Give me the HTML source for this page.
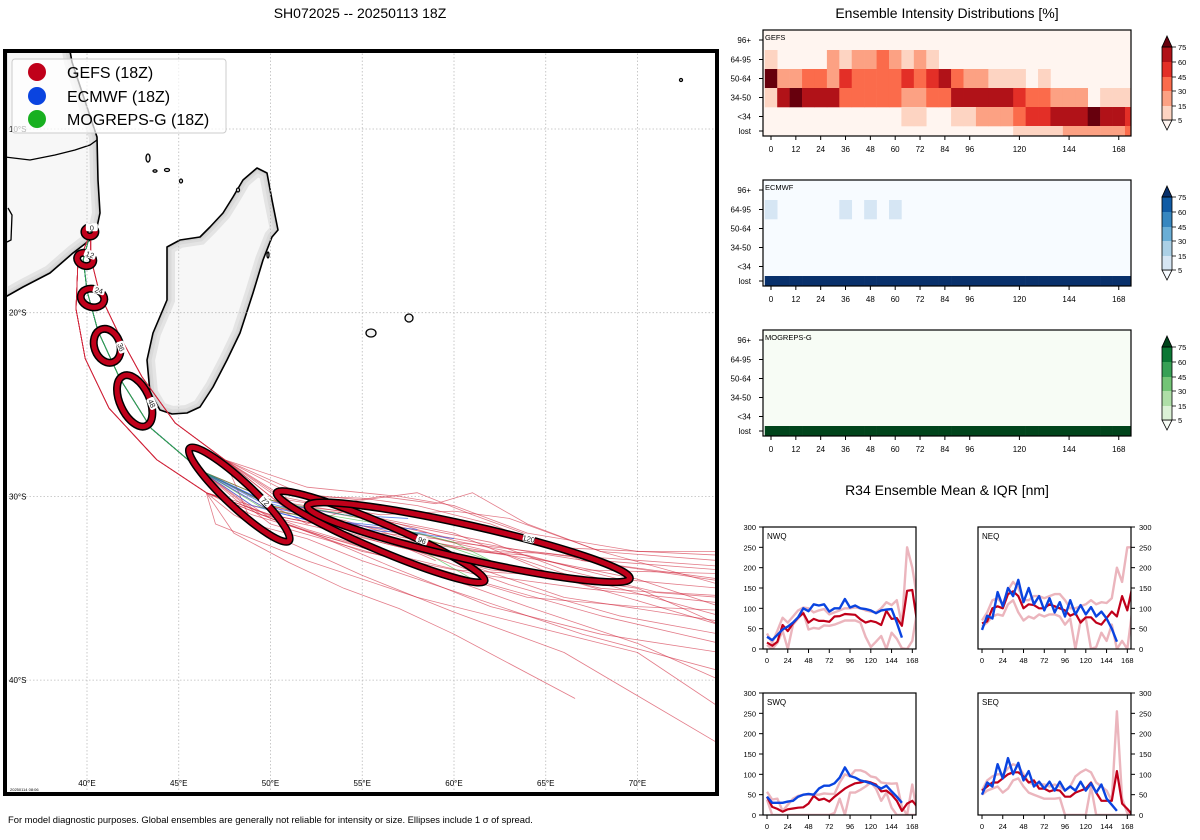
<!DOCTYPE html>
<html><head><meta charset="utf-8">
<style>
html,body{margin:0;padding:0;background:#fff;}
svg{display:block;font-family:"Liberation Sans","DejaVu Sans",sans-serif;}
</style></head>
<body>
<svg id="root" width="1200" height="840" viewBox="0 0 1200 840" xmlns="http://www.w3.org/2000/svg">
<defs>
<clipPath id="mapclip"><rect x="5" y="50" width="712" height="744"/></clipPath>
<clipPath id="madclip"><path id="madpath" d="M257,168 L267,173 L272,200 L278,230 L272,237 L263,260 L253,293 L240,333 L227,360 L213,387 L200,407 L187,413 L172,414 L160,410 L150,393 L147,360 L153,333 L167,300 L167,267 L167,247 L180,240 L200,237 L210,227 L223,213 L233,197 L243,180 Z"/></clipPath>
<clipPath id="afrclip"><path id="afrpath" d="M0,40 L68,40 L72,62 L88,110 L97,137 L98,180 L100,213 L97,227 L90,240 L73,253 L50,273 L23,287 L0,300 Z"/></clipPath>
</defs>
<text x="360" y="18" text-anchor="middle" font-size="14">SH072025 -- 20250113 18Z</text>
<text x="947" y="18" text-anchor="middle" font-size="14">Ensemble Intensity Distributions [%]</text>
<text x="947" y="495" text-anchor="middle" font-size="14">R34 Ensemble Mean &amp; IQR [nm]</text>
<text x="8" y="823" font-size="9.4">For model diagnostic purposes. Global ensembles are generally not reliable for intensity or size. Ellipses include 1 σ of spread.</text>
<g id="map" clip-path="url(#mapclip)"></g>
<rect x="5" y="51" width="712" height="743" fill="none" stroke="#000" stroke-width="4"/>
<g id="legend">
<rect x="12" y="59" width="214" height="74" rx="3" fill="#fff" fill-opacity="0.7" stroke="#ccc"/>
<circle cx="37" cy="72" r="9" fill="#c0001a"/>
<text x="67" y="78" font-size="16">GEFS (18Z)</text>
<circle cx="37" cy="96" r="9" fill="#0a44e0"/>
<text x="67" y="102" font-size="16">ECMWF (18Z)</text>
<circle cx="37" cy="119" r="9" fill="#18b020"/>
<text x="67" y="125" font-size="16">MOGREPS-G (18Z)</text>
</g>
<g id="right"></g>
</svg>
<script>
// ---------- MAP DATA ----------
const lonTicks = [40,45,50,55,60,65,70];
const latTicks = [10,20,30,40];
const prefixMid = [[40.2,15.6],[39.8,17.1],[40.0,18.8],[40.6,21.0],[41.8,23.6],[43.5,26.3],[46.2,28.6]];
const prefixWest = [[40.2,15.6],[39.5,17.4],[39.4,19.8],[39.9,22.5],[41.2,25.2],[43.8,28.0],[46.5,29.8]];
const prefixEast = [[40.2,15.6],[40.2,17.0],[40.7,19.0],[41.8,21.3],[43.0,23.5],[44.8,26.0],[47.5,28.0]];
const redTails = [
 [[50,30.5],[53,31.2],[56,32],[59,32.3],[62,33],[65,33.1],[68,33.5],[74.5,34]],
 [[50,31],[53,31.6],[56,32.5],[62,34],[65,34.3],[68,35],[74.5,35.5]],
 [[49,31.5],[52,32.3],[55,33.5],[61,35.5],[67,37.5],[74.5,39.5]],
 [[48,32],[51,33.6],[54,35],[57,36.1],[60,37.5],[66.6,41]],
 [[50,30.8],[54,31.3],[57,32.2],[63,33.2],[66,34.2],[69,35],[74.5,36.5]],
 [[51,30.5],[54,30.8],[57,31.5],[60,32.4],[63,33],[69,34.5],[74.5,35]],
 [[50,31.2],[53,32.2],[56,33],[62,34.8],[68,36.5],[74.5,38]],
 [[52,30],[55,30.1],[58,30.5],[62,31.5],[67,33.5],[74.5,34.5]],
 [[49,30.5],[54,31.5],[57,31.8],[60,32.5],[66,33.2],[74.5,33.8]],
 [[50,31.5],[57,33.5],[64,36],[70,38],[74.5,40]],
 [[51,30.8],[56,31.8],[61,33],[64,33.2],[67,34],[74.5,34.2]],
 [[50,30.5],[55,31.8],[59,33.5]],
 [[52,29.5],[57,30],[60,30.5],[64,32],[70,33],[74.5,33]],
 [[50,31],[55,32],[60,32.8],[65,33.5],[70,34.5],[74.5,36]],
 [[47,31.5],[52,33.5],[58,35.5],[64,37],[70,38.5],[74.5,41.5]],
 [[51,29.8],[55,30.2],[58,29.8],[61,31],[66,32.8],[74.5,33.2]],
 [[50,30.2],[55,31],[60,32],[66,34.5],[74.5,37]],
 [[49,31],[54,32.5],[59,34],[64,35.5],[70,36],[74.5,36.2]],
 [[49.5,30.2],[52,31.5],[54,30.8],[57,31.8],[61,33.8],[66,35.5],[74.5,36.8]],
 [[50.5,30],[53,30.5],[56,30],[59,30.4],[61,29.8],[64,31.5],[68,33],[74.5,34.8]],
 [[49,30.8],[53,32.3],[57,34],[62,36],[68,37.5],[74.5,38.5]],
 [[48.5,30.5],[52,31.8],[56,33],[61,34.2],[67,35],[74.5,35.8]],
 [[51,30.2],[56,31],[60,30.8],[63,31.2],[68,33],[74.5,33.5]],
 [[50,31.2],[55,33],[60,34],[65,34.3],[70,35],[74.5,37]],
 [[49.5,31],[54,32],[58,33],[63,34.8],[69,36.5],[74.5,37.5]],
 [[50.5,30.4],[55,31.2],[59.5,32.2],[64,33],[69,33.8],[74.5,34.6]],
 [[48,31],[51,32.5],[55,34.3],[60,36.3],[66,38.5],[74.5,43.5]],
 [[51,30.6],[54,30.9],[57.5,31.6],[62,32.5],[66,34],[71,35.2],[74.5,35.4]]
];
const redPrefixIdx = [0,1,2,1,0,2,0,2,1,0,2,0,2,1,1,2,0,1,0,2,1,0,2,1,0,2,1,0];
const blueTails = [
 [[50,30.4],[54,31.4],[58,31.8]],
 [[50,30.6],[55,31.6],[60,32.3]],
 [[49.5,30.2],[54,31],[57.5,31.2]],
 [[50,30.8],[55,32],[59.5,33]],
 [[49,30.5],[52,31.3],[56,31.9],[58.5,32]]
];
const greenTails = [
 [[50,30.2],[55,31.2],[59,32.5],[62,33.5]],
 [[50,30.5],[56,31.5],[60,32.5],[63,34]],
 [[49.5,30.6],[55,31.8],[58,32.8],[61,34.5]]
];
// ellipse parameters per forecast hour
const ellipseHours = [0,12,24,36,48,72,96,120];
const ellCenterLon = [40.16,39.9,40.3,41.1,42.6,48.3,56.0,60.8];
const ellCenterLat = [15.6,17.1,19.2,21.8,24.8,29.9,32.2,32.5];
const ellMajor = [0.3,0.45,0.65,0.95,1.5,3.7,6.15,9.0];
const ellMinor = [0.25,0.35,0.5,0.7,0.8,0.7,0.72,0.92];
const ellAngle = [0,20,15,70,65,43,23,12.7];

// ---------- MAP ----------
const NS='http://www.w3.org/2000/svg';
function el(tag, attrs, parent){const e=document.createElementNS(NS,tag);for(const k in attrs)e.setAttribute(k,attrs[k]);if(parent)parent.appendChild(e);return e;}
const mx = lon => 87 + (lon-40)*18.35;
const my = lat => 129 + (lat-10)*18.37;
const map = document.getElementById('map');
el('rect',{x:5,y:50,width:712,height:744,fill:'#fff'},map);
function land(pathId, clipId, name){
  const g = el('g',{},map);
  
  
  const d = document.getElementById(pathId).getAttribute('d');
  el('path',{d:d,fill:'#f7f7f7'},g);
  const inner = el('g',{'clip-path':'url(#'+clipId+')'},g);
  el('path',{d:d,fill:'none',stroke:'#e4e4e4','stroke-width':16},inner);
  el('path',{d:d,fill:'none',stroke:'#dadada','stroke-width':9},inner);
  el('path',{d:d,fill:'none',stroke:'#cfcfcf','stroke-width':4},inner);
  el('path',{d:d,fill:'none',stroke:'#000','stroke-width':1.6,'stroke-linejoin':'round'},g);
}
land('afrpath','afrclip','africa-coast');
land('madpath','madclip','madagascar');
const border = el('path',{d:'M5,157 L30,160 L55,155 L75,150 L90,145 L97,140',fill:'none',stroke:'#000','stroke-width':1.3},map);


el('path',{d:'M8,208 L12,215 L11,240 L7,242',fill:'none',stroke:'#000','stroke-width':1.3},map);
const islands = [[148,158,2,4],[155,171,2,1.2],[167,170,2.5,1.5],[181,181,1.5,2],[238,190,1.5,2],[371,333,5,4],[409,318,4,4],[681,80,1.5,1.5],[268,255,1,3]];
islands.forEach(p=>{const i=el('ellipse',{cx:p[0],cy:p[1],rx:p[2],ry:p[3],fill:'#f3f3f3',stroke:'#000','stroke-width':1.3},map);

});
lonTicks.forEach(l=>{const g=el('line',{x1:mx(l),x2:mx(l),y1:50,y2:794,stroke:'#bbb','stroke-width':0.8,'stroke-dasharray':'1.5,2'},map);


const t=el('text',{x:mx(l),y:786,'text-anchor':'middle','font-size':8},map);t.textContent=l+'°E';

});
latTicks.forEach(l=>{const g=el('line',{x1:5,x2:717,y1:my(l),y2:my(l),stroke:'#bbb','stroke-width':0.8,'stroke-dasharray':'1.5,2'},map);


const t=el('text',{x:9,y:my(l)+3,'font-size':8},map);t.textContent=l+'°S';

});
const prefixes=[prefixMid,prefixWest,prefixEast];
function track(pts,color,w,op,name){
  const p=el('polyline',{points:pts.map(q=>mx(q[0]).toFixed(1)+','+my(q[1]).toFixed(1)).join(' '),fill:'none',stroke:color,'stroke-width':w,'stroke-opacity':op,'stroke-linejoin':'round'},map);
  
  
}
redTails.forEach((t,i)=>track(prefixes[redPrefixIdx[i]].concat(t),'#d0243a',0.8,0.6,'gefs-member-track'));
blueTails.forEach(t=>track(prefixMid.concat(t),'#2a5ae8',0.9,0.7,'ecmwf-member-track'));
greenTails.forEach(t=>track(prefixMid.concat(t),'#2fb82f',0.8,0.6,'mogreps-member-track'));
ellipseHours.forEach((h,i)=>{
  const cx=mx(ellCenterLon[i]), cy=my(ellCenterLat[i]);
  const a=ellMajor[i]*18.35, b=ellMinor[i]*18.37;
  const g=el('g',{transform:'translate('+cx.toFixed(1)+','+cy.toFixed(1)+') rotate('+ellAngle[i]+')'},map);
  
  
  el('ellipse',{cx:0,cy:0,rx:a,ry:b,fill:'none',stroke:'#000','stroke-width':8},g);
  el('ellipse',{cx:0,cy:0,rx:a,ry:b,fill:'none',stroke:'#c0001a','stroke-width':5},g);
  const lx = a*0.35, ly = -b;
  el('rect',{x:lx-6,y:ly-4,width:12,height:8,fill:'#fff',rx:2},g);
  const t=el('text',{x:lx,y:ly+3,'text-anchor':'middle','font-size':7.5,fill:'#222'},g);t.textContent=h;
  
  
});
const stamp=el('text',{x:10,y:791,'font-size':4},map);stamp.textContent='20250114 08:06';


</script>
<script>
// ---------- INTENSITY HEATMAP DATA ----------
const hmHours = [0,6,12,18,24,30,36,42,48,54,60,66,72,78,84,90,96,102,108,114,120,126,132,138,144,150,156,162,168,174];
const hmCategories = ['96+','64-95','50-64','34-50','<34','lost'];
const hmTickHours = [0,12,24,36,48,60,72,84,96,120,144,168];
const cbTicks = [5,15,30,45,60,75];
const gefs96 = [0,0,0,0,0,0,0,0,0,0,0,0,0,0,0,0,0,0,0,0,0,0,0,0,0,0,0,0,0,0];
const gefs64 = [10,0,0,0,0,22,10,22,22,38,22,10,22,10,0,0,0,0,0,0,0,0,0,0,0,0,0,0,0,0];
const gefs50 = [80,22,22,38,38,22,52,38,38,38,38,52,38,52,68,38,22,22,10,10,10,0,10,0,0,0,0,0,0,0];
const gefs34 = [10,68,80,68,68,68,38,38,38,38,38,22,22,38,38,68,68,68,68,68,52,38,38,22,22,22,0,10,10,10];
const gefsLt34 = [0,0,0,0,0,0,0,0,0,0,0,10,10,0,0,10,10,22,22,22,38,52,52,68,68,68,80,68,68,52];
const gefsLost = [0,0,0,0,0,0,0,0,0,0,0,0,0,0,0,0,0,0,0,0,10,10,10,10,22,22,22,22,22,38];
const ecmwf64 = [10,0,0,0,0,0,10,0,10,0,10,0,0,0,0,0,0,0,0,0,0,0,0,0,0,0,0,0,0,0];
const ecmwfLost = [100,100,100,100,100,100,100,100,100,100,100,100,100,100,100,100,100,100,100,100,100,100,100,100,100,100,100,100,100,100];
const mogrepsLost = [100,100,100,100,100,100,100,100,100,100,100,100,100,100,100,100,100,100,100,100,100,100,100,100,100,100,100,100,100,100];
const zeros = [0,0,0,0,0,0,0,0,0,0,0,0,0,0,0,0,0,0,0,0,0,0,0,0,0,0,0,0,0,0];

const NS2='http://www.w3.org/2000/svg';
function mk(tag, attrs, parent){const e=document.createElementNS(NS2,tag);for(const k in attrs)e.setAttribute(k,attrs[k]);if(parent)parent.appendChild(e);return e;}
const right=document.getElementById('right');
const palettes = {
  red:['#fff5f0','#fdd4c2','#fca183','#fb6b4b','#e32f27','#b11218','#67000d'],
  blue:['#f7fbff','#d6e6f4','#abd0e6','#6aaed6','#3787c0','#105ba4','#08306b'],
  green:['#f7fcf5','#dbf1d6','#aedea7','#73c476','#37a055','#0b7734','#00441b']
};
function level(v){return v<5?0:v<15?1:v<30?2:v<45?3:v<60?4:v<75?5:6;}
const hx = h => 771 + h*2.07;
const rowTop=[0,20,39,58,77,96], rowH=[20,19,19,19,19,10];
function heatmap(y0, rows, pal, label, name){
  const g=mk('g',{},right);
  
  
  const colors=palettes[pal];
  mk('rect',{x:763,y:y0,width:368,height:106,fill:colors[0]},g);
  rows.forEach((vals,r)=>{
    vals.forEach((v,c)=>{
      const lv=level(v); if(lv===0) return;
      const x1=Math.max(763,hx(hmHours[c]-3)), x2=Math.min(1131,hx(hmHours[c]+3));
      const cell=mk('rect',{x:x1,y:y0+rowTop[r],width:x2-x1+0.3,height:rowH[r]+0.3,fill:colors[lv]},g);
      
      
    });
  });
  mk('rect',{x:763,y:y0,width:368,height:106,fill:'none',stroke:'#000','stroke-width':1.2},g);
  const t=mk('text',{x:765,y:y0+10,'font-size':7.5},g);t.textContent=label;
  
  
  hmCategories.forEach((c,r)=>{
    const yy=y0+rowTop[r]+rowH[r]/2;
    mk('line',{x1:759,x2:763,y1:yy,y2:yy,stroke:'#000','stroke-width':1},g);
    const tl=mk('text',{x:751,y:yy+3,'text-anchor':'end','font-size':8},g);tl.textContent=c;
    
    
  });
  hmTickHours.forEach(h=>{
    mk('line',{x1:hx(h),x2:hx(h),y1:y0+106,y2:y0+110,stroke:'#000','stroke-width':1},g);
    const tl=mk('text',{x:hx(h),y:y0+122,'text-anchor':'middle','font-size':8},g);tl.textContent=h;
    
    
  });
  const cb=mk('g',{},right);
  
  
  const ys=[y0+90, y0+76, y0+61, y0+47, y0+32, y0+17];
  mk('polygon',{points:'1162,'+ys[0]+' 1172,'+ys[0]+' 1167,'+(y0+100),fill:colors[0],stroke:'#000','stroke-width':0.8},cb);
  for(let i=0;i<5;i++) mk('rect',{x:1162,y:ys[i+1],width:10,height:ys[i]-ys[i+1],fill:colors[i+1]},cb);
  mk('polygon',{points:'1162,'+ys[5]+' 1172,'+ys[5]+' 1167,'+(y0+6),fill:colors[6],stroke:'#000','stroke-width':0.8},cb);
  mk('rect',{x:1162,y:ys[5],width:10,height:ys[0]-ys[5],fill:'none',stroke:'#000','stroke-width':0.8},cb);
  cbTicks.forEach((v,i)=>{
    mk('line',{x1:1172,x2:1176,y1:ys[i],y2:ys[i],stroke:'#000','stroke-width':0.8},cb);
    const tl=mk('text',{x:1178,y:ys[i]+3,'font-size':7.5},cb);tl.textContent=v;
    
    
  });
}
heatmap(30,[gefs96,gefs64,gefs50,gefs34,gefsLt34,gefsLost],'red','GEFS','gefs-intensity-heatmap');
heatmap(180,[zeros,ecmwf64,zeros,zeros,zeros,ecmwfLost],'blue','ECMWF','ecmwf-intensity-heatmap');
heatmap(330,[zeros,zeros,zeros,zeros,zeros,mogrepsLost],'green','MOGREPS-G','mogreps-intensity-heatmap');
</script>
<script>
// ---------- R34 DATA ----------
const r34Hours = [0,6,12,18,24,30,36,42,48,54,60,66,72,78,84,90,96,102,108,114,120,126,132,138,144,150,156,162,168,174];
const r34XTicks = [0,24,48,72,96,120,144,168];
const r34YTicks = [0,50,100,150,200,250,300];
const nwqMean = [16,8,18,59,44,63,77,88,65,74,69,69,67,80,81,86,85,84,73,65,69,66,59,94,74,76,57,143,145,60];
const nwqHigh = [38,15,45,77,65,80,95,102,100,90,95,98,85,90,95,100,100,102,100,95,92,90,100,115,108,120,60,250,200,120];
const nwqLow = [10,0,15,45,0,60,75,90,48,52,50,58,57,60,65,70,70,70,65,30,5,18,32,0,40,25,2,0,20,100];
const nwqEc = [30,22,35,48,55,65,78,100,93,110,107,110,92,100,100,123,102,107,100,98,95,88,95,97,98,65,28];
const neqMean = [63,68,100,105,100,135,142,130,100,110,108,100,100,110,105,100,95,82,88,65,78,78,65,60,76,92,80,130,95,155];
const neqHigh = [70,90,120,125,110,145,165,150,120,120,130,130,125,130,135,135,120,100,100,105,110,120,110,115,113,125,200,165,250,250];
const neqLow = [55,65,80,85,82,110,120,90,70,80,75,85,80,85,85,80,60,75,0,70,75,0,5,40,20,60,0,20,0,100];
const neqEc = [47,82,75,140,105,150,130,170,115,150,110,130,95,125,90,115,80,120,85,108,85,103,80,92,75,50,18];
const swqMean = [45,20,15,8,14,16,18,19,28,47,37,40,33,45,55,65,72,78,80,83,80,75,58,60,50,35,10,28,35,20];
const swqHigh = [57,38,40,10,25,40,47,50,50,50,50,53,52,52,80,100,95,110,110,105,95,92,80,78,77,78,20,0,75,0];
const swqLow = [38,0,0,0,0,0,0,0,0,0,0,0,0,5,40,0,55,55,62,70,80,65,35,55,18,0,0,0,0,0];
const swqEc = [45,30,30,30,33,35,45,50,52,50,65,72,72,78,92,117,96,92,85,82,78,72,65,72,58,45,30];
const seqMean = [60,70,80,80,90,100,105,105,95,80,85,65,65,58,62,60,45,45,55,60,65,80,55,35,35,35,108,28,15,0];
const seqHigh = [60,85,95,100,100,115,125,120,100,80,75,75,75,70,75,70,60,70,95,105,112,105,80,70,60,35,255,40,5,0];
const seqLow = [50,60,65,70,55,65,85,90,70,55,50,45,40,40,40,42,0,0,0,0,0,70,0,0,0,0,0,0,0,0];
const seqEc = [50,80,70,125,90,140,100,128,85,108,70,82,65,82,60,82,60,70,60,82,60,78,55,75,40,25,10];

const NS3='http://www.w3.org/2000/svg';
function mk3(tag, attrs, parent){const e=document.createElementNS(NS3,tag);for(const k in attrs)e.setAttribute(k,attrs[k]);if(parent)parent.appendChild(e);return e;}
const rootR=document.getElementById('right');
let clipN=0;
function r34Panel(x0,y0,axisRight,label,name,mean,hi,lo,ec){
  const W=153,H=122;
  const sx = h => x0+4 + h*0.865;
  const sy = v => y0+H - v/300*H;
  const g=mk3('g',{},rootR);
  
  
  const cid='r34clip'+(clipN++);
  const defs=mk3('defs',{},g);
  const cp=mk3('clipPath',{id:cid},defs);
  mk3('rect',{x:x0,y:y0,width:W,height:H},cp);
  const plot=mk3('g',{'clip-path':'url(#'+cid+')'},g);
  function line(arr,color,w,op,nm){
    const p=mk3('polyline',{points:arr.map((v,i)=>sx(r34Hours[i]).toFixed(1)+','+sy(v).toFixed(1)).join(' '),fill:'none',stroke:color,'stroke-width':w,'stroke-opacity':op,'stroke-linejoin':'round'},plot);
    
    
  }
  line(hi,'#d76b7c',2.4,0.5,'gefs-iqr-upper');
  line(lo,'#d76b7c',2.4,0.5,'gefs-iqr-lower');
  line(mean,'#c0001a',2.2,1,'gefs-mean-line');
  line(ec,'#0a44e0',2.4,1,'ecmwf-mean-line');
  mk3('rect',{x:x0,y:y0,width:W,height:H,fill:'none',stroke:'#000','stroke-width':1.2},g);
  const t=mk3('text',{x:x0+4,y:y0+12,'font-size':8},g);t.textContent=label;
  
  
  r34XTicks.forEach(h=>{
    mk3('line',{x1:sx(h),x2:sx(h),y1:y0+H,y2:y0+H+4,stroke:'#000','stroke-width':1},g);
    const tl=mk3('text',{x:sx(h),y:y0+H+14,'text-anchor':'middle','font-size':7.5},g);tl.textContent=h;
    
    
  });
  r34YTicks.forEach(v=>{
    const ax = axisRight? x0+W : x0;
    const d = axisRight? 4 : -4;
    mk3('line',{x1:ax,x2:ax+d,y1:sy(v),y2:sy(v),stroke:'#000','stroke-width':1},g);
    const tl=mk3('text',{x:axisRight? ax+8 : ax-7,y:sy(v)+3,'text-anchor':axisRight?'start':'end','font-size':7.5},g);tl.textContent=v;
    
    
  });
}
r34Panel(763,527,false,'NWQ','r34-nwq-panel',nwqMean,nwqHigh,nwqLow,nwqEc);
r34Panel(978,527,true,'NEQ','r34-neq-panel',neqMean,neqHigh,neqLow,neqEc);
r34Panel(763,693,false,'SWQ','r34-swq-panel',swqMean,swqHigh,swqLow,swqEc);
r34Panel(978,693,true,'SEQ','r34-seq-panel',seqMean,seqHigh,seqLow,seqEc);
</script>
</body></html>
